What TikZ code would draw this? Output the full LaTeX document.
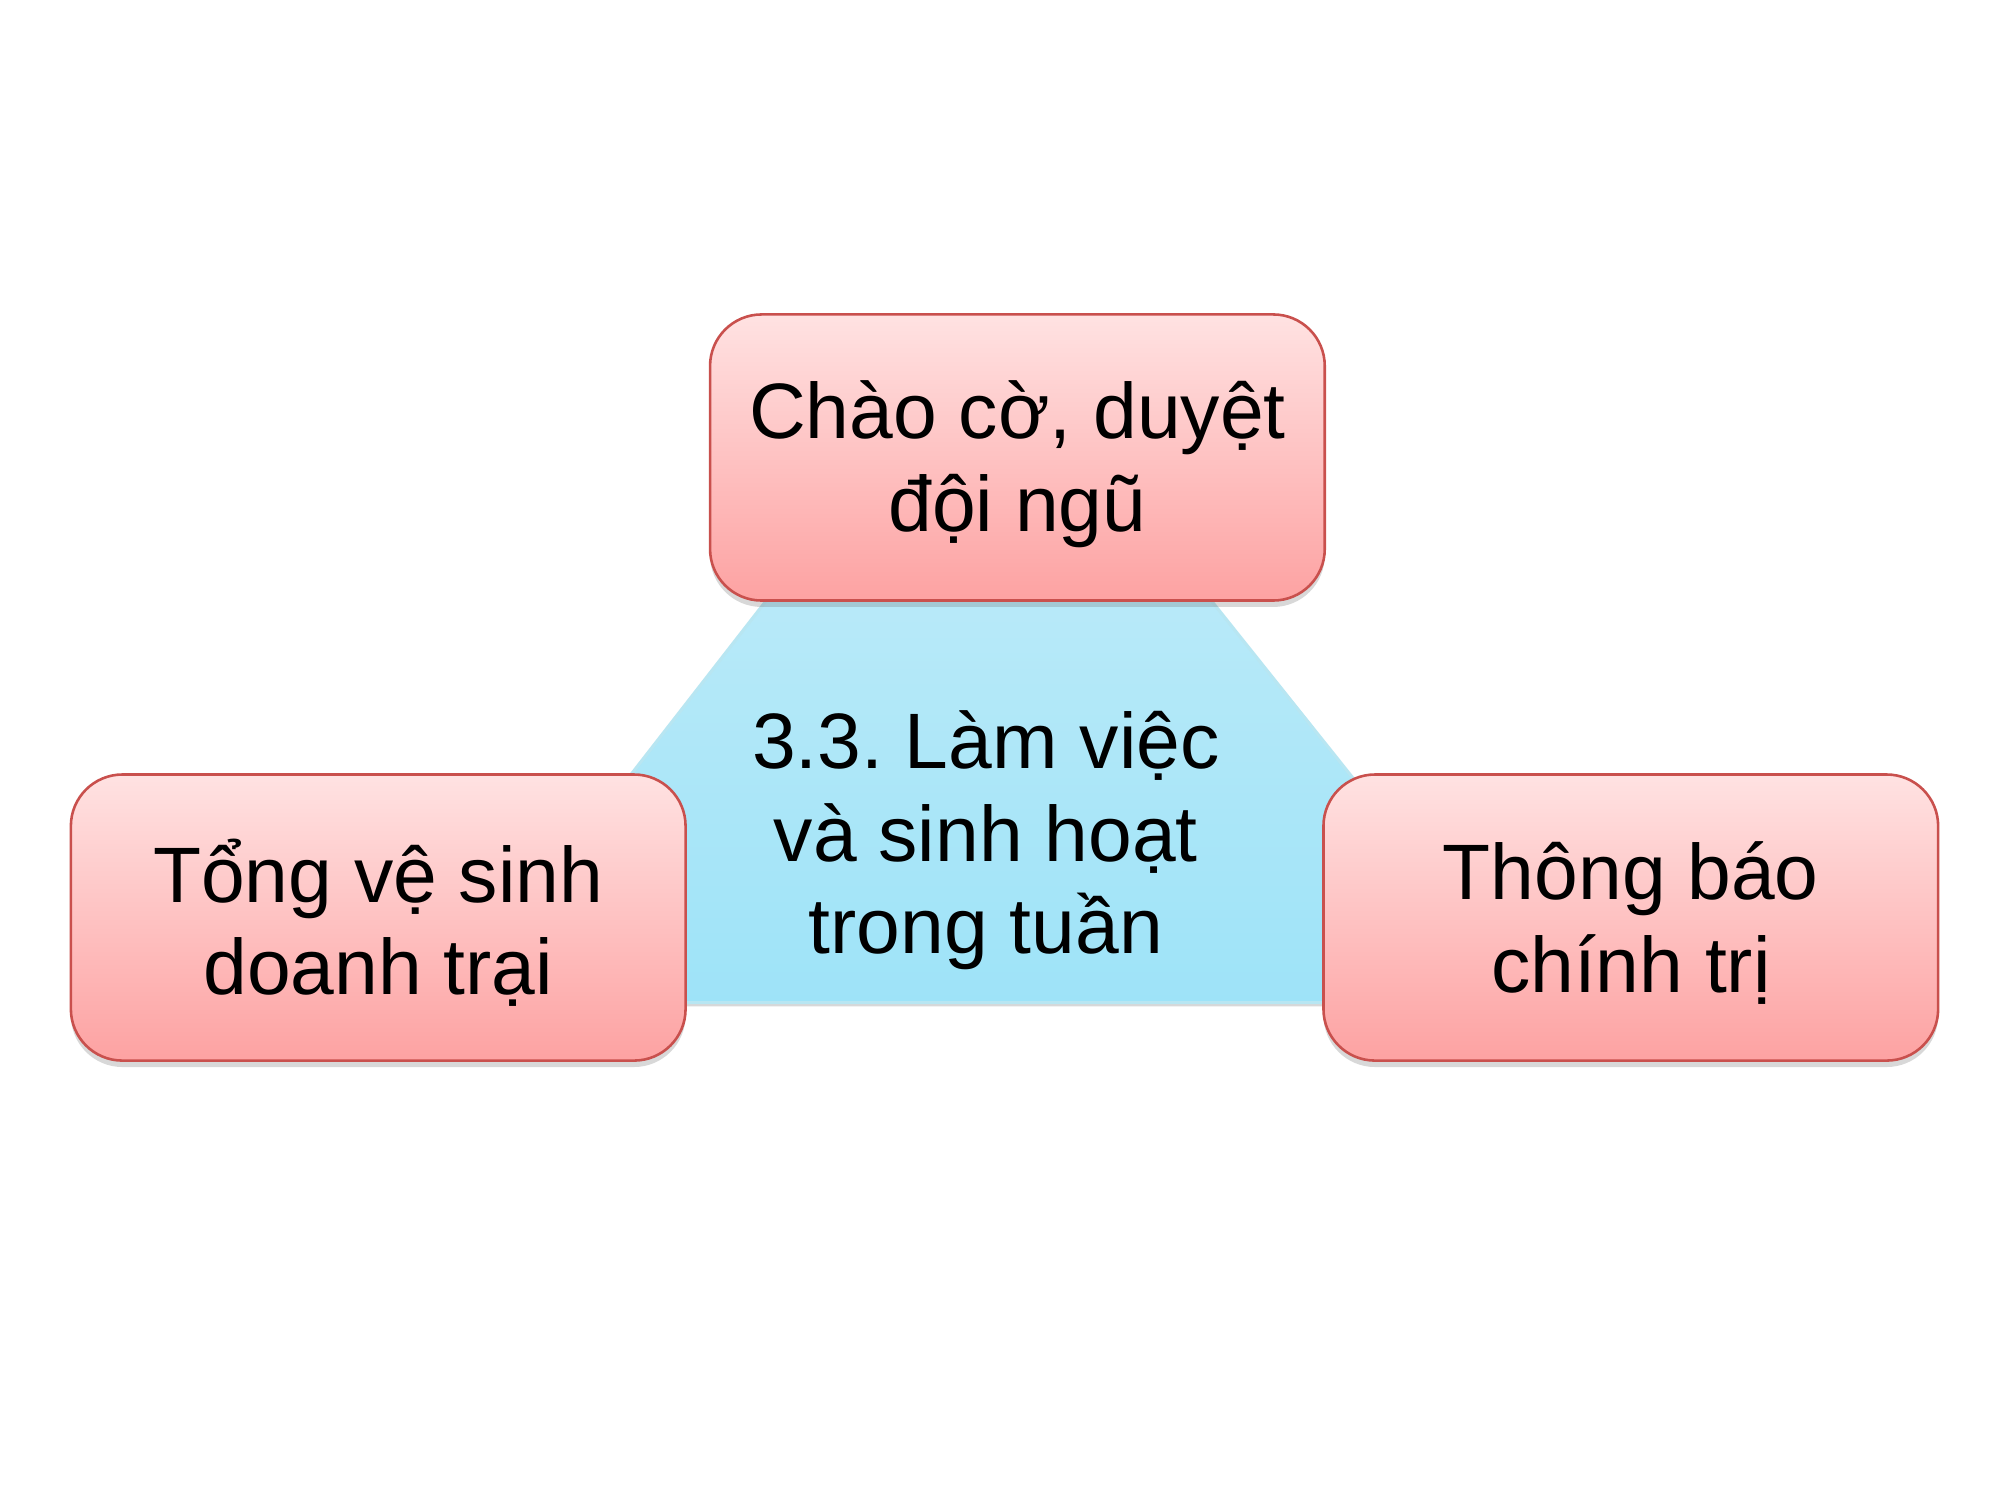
\documentclass[tikz,border=0pt]{standalone}
\usepackage{fontspec}
\setmainfont{Liberation Sans}
\frenchspacing
\usetikzlibrary{shadows}
\definecolor{boxtop}{HTML}{FFE2E2}
\definecolor{boxbot}{HTML}{FDA2A2}
\definecolor{boxline}{HTML}{C9504D}
\definecolor{tritop}{HTML}{CAEEF9}
\definecolor{tribot}{HTML}{9EE3F8}
\definecolor{triline}{HTML}{B8E6F2}
\tikzset{
  pinkbox/.style={draw=boxline, line width=1pt, rounded corners=20pt,
    top color=boxtop, bottom color=boxbot,
    minimum width=238.5pt, minimum height=111pt, inner sep=0pt,
    drop shadow={shadow xshift=0pt, shadow yshift=-2.5pt, opacity=0.25, fill=black!60}},
  boxtext/.style={align=center, font=\fontsize{30.5}{36}\selectfont, inner sep=0pt}
}
\begin{document}
\begin{tikzpicture}[x=0.5pt,y=-0.5pt]
\useasboundingbox (0,0) rectangle (1552,1164);
\fill[white] (0,0) rectangle (1552,1164);
% triangle
\shade[top color=tritop, bottom color=tribot, draw=triline, line width=1.2pt,
  drop shadow={shadow xshift=0pt, shadow yshift=-1.5pt, opacity=0.25, fill=black!60}]
  (765,247) -- (1189,778) -- (352,778) -- cycle;
\node[boxtext] (center) at (765,652) {3.3. Làm việc\\và sinh hoạt\\trong tuần};
\node[pinkbox] (top) at (789.5,355) {};
\node[boxtext] (toptext) at ([yshift=-2.5pt]top.center) {Chào cờ, duyệt\\đội ngũ};
\node[pinkbox] (left) at (293.5,712) {};
\node[boxtext] (lefttext) at ([yshift=-2pt]left.center) {Tổng vệ sinh\\doanh trại};
\node[pinkbox] (right) at (1265.5,712) {};
\node[boxtext] (righttext) at ([yshift=-2pt]right.center) {Thông báo\\chính trị};
\end{tikzpicture}
\end{document}
